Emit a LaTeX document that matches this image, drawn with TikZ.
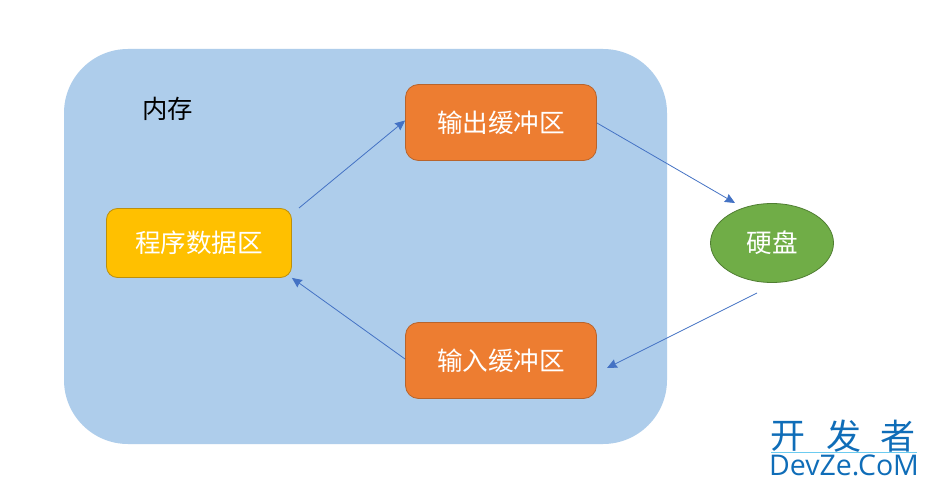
\documentclass[tikz,border=0pt]{standalone}
\usepackage{fontspec}
\setmainfont{Noto Sans CJK SC}
\setsansfont{Open Sans}
\usetikzlibrary{shapes.geometric,arrows.meta}
\definecolor{memblue}{HTML}{AECDEB}
\definecolor{orangefill}{HTML}{ED7D31}
\definecolor{orangeline}{HTML}{B8642C}
\definecolor{yellowfill}{HTML}{FFC000}
\definecolor{yellowline}{HTML}{BC8F0C}
\definecolor{greenfill}{HTML}{70AD47}
\definecolor{greenline}{HTML}{507E32}
\definecolor{arrowblue}{HTML}{4472C4}
\definecolor{wmblue}{HTML}{0F6DB8}
\definecolor{wmline}{HTML}{6CCBF0}
\tikzset{
  memstyle/.style={fill=memblue,draw=none,rounded corners=64pt,minimum width=603pt,minimum height=395pt,inner sep=0pt},
  bufstyle/.style={fill=orangefill,draw=orangeline,line width=0.8pt,rounded corners=13pt,minimum width=191pt,minimum height=76pt,inner sep=0pt,text=white,font=\fontsize{25.6pt}{28pt}\selectfont},
  progstyle/.style={fill=yellowfill,draw=yellowline,line width=0.8pt,rounded corners=11pt,minimum width=185pt,minimum height=69pt,inner sep=0pt,text=white,font=\fontsize{25.6pt}{28pt}\selectfont},
  diskstyle/.style={ellipse,fill=greenfill,draw=greenline,line width=0.8pt,minimum width=123pt,minimum height=79pt,inner sep=0pt,text=white,font=\fontsize{25.6pt}{28pt}\selectfont},
  labelstyle/.style={text=black,inner sep=0pt,font=\fontsize{25.4pt}{28pt}\selectfont},
  conn/.style={draw=arrowblue,line width=0.8pt,-{Stealth[length=10pt,width=9pt,inset=1pt]}},
  wmcn/.style={text=wmblue,inner sep=0pt,font=\fontsize{35pt}{37pt}\selectfont},
  wmen/.style={text=wmblue,inner sep=0pt,font=\sffamily\fontsize{28.5pt}{30pt}\selectfont},
}
\begin{document}
\begin{tikzpicture}[x=1pt,y=-1pt]
\useasboundingbox (0,0) rectangle (927,487);
\fill[white] (0,0) rectangle (927,487);
\node[memstyle] (mem) at (365.5,246.5) {};
\node[labelstyle] (memlabel) at (167.5,109) {内存};
\node[bufstyle] (outbuf) at (501,122.5) {输出缓冲区};
\node[bufstyle] (inbuf) at (501,360.5) {输入缓冲区};
\node[progstyle] (prog) at (199,243) {程序数据区};
\node[diskstyle] (disk) at (772,243) {硬盘};
\coordinate (progout) at (299,208);
\coordinate (outout) at (597,123);
\coordinate (diskin) at (735,203);
\coordinate (diskout) at (757,293);
\coordinate (inin) at (607,368);
\coordinate (inout) at (405,359);
\draw[conn] (progout) -- ([yshift=2pt]outbuf.west);
\draw[conn] (outout) -- (diskin);
\draw[conn] (diskout) -- (inin);
\draw[conn] (inout) -- (prog.south east);
\node[wmcn] (wm1) at (788,436) {开};
\node[wmcn] (wm2) at (844,436) {发};
\node[wmcn] (wm3) at (898,436) {者};
\draw[wmline,line width=0.8pt] (771,452) coordinate (wma) -- (917,452) coordinate (wmb);
\node[wmen] (wm4) at (844,465) {DevZe.CoM};
\end{tikzpicture}
\end{document}
